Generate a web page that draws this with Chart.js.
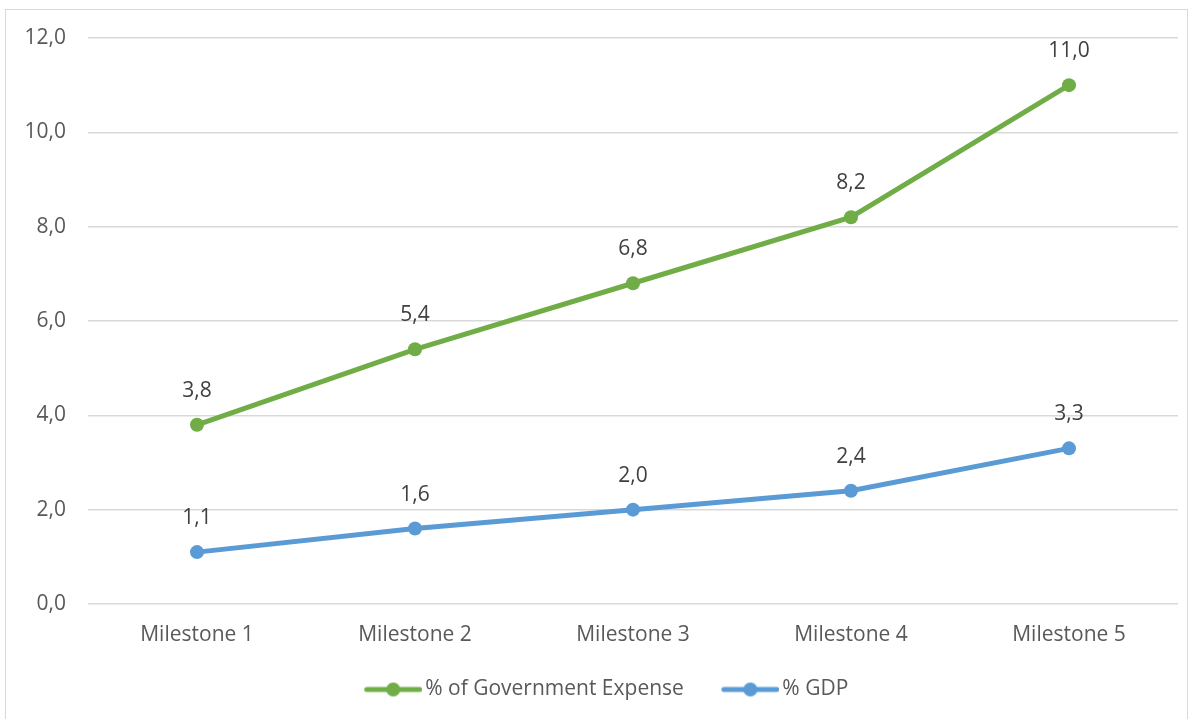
<!DOCTYPE html>
<html>
<head>
<meta charset="utf-8">
<script src="https://cdn.jsdelivr.net/npm/chart.js@4.4.0/dist/chart.umd.min.js"></script>
<style>
html,body{margin:0;padding:0;background:#fff;}
#wrap{position:absolute;left:0;top:0;width:1193px;height:719px;}
#frame{position:absolute;left:5px;top:9px;width:1183px;height:720px;border:1px solid #d9d9d9;box-sizing:border-box;}
canvas{position:absolute;left:0;top:0;}
</style>
</head>
<body>
<div id="wrap"><div id="frame"></div><canvas id="c" width="1193" height="719"></canvas></div>
<script>
const categories = ["Milestone 1","Milestone 2","Milestone 3","Milestone 4","Milestone 5"];
const govExpense = [3.8, 5.4, 6.8, 8.2, 11.0];
const gdp = [1.1, 1.6, 2.0, 2.4, 3.3];
const seriesNames = ["% of Government Expense", "% GDP"];
const GREEN = "#70ad47", BLUE = "#5b9bd5";
const FONT = "'Open Sans', 'Liberation Sans', sans-serif";
const FS = 21;

function legendIcon(color){
  const cv = document.createElement('canvas');
  cv.width = 90; cv.height = 16;
  const g = cv.getContext('2d');
  g.strokeStyle = color; g.lineWidth = 5; g.lineCap = 'round';
  g.beginPath(); g.moveTo(34.5,8); g.lineTo(87.5,8); g.stroke();
  g.fillStyle = color; g.beginPath(); g.arc(61,8,7,0,Math.PI*2); g.fill();
  return cv;
}

const fmt = v => v.toFixed(1).replace('.', ',');

const dataLabels = {
  id: 'dataLabels',
  afterDatasetsDraw(chart){
    const ctx = chart.ctx;
    ctx.save();
    ctx.font = FS + "px " + FONT;
    ctx.fillStyle = "#404040";
    ctx.textAlign = 'center';
    ctx.textBaseline = 'middle';
    chart.data.datasets.forEach((ds, i) => {
      chart.getDatasetMeta(i).data.forEach((pt, j) => {
        ctx.fillText(fmt(ds.data[j]), pt.x, pt.y - 34);
      });
    });
    ctx.restore();
  }
};

new Chart(document.getElementById('c'), {
  type: 'line',
  data: {
    labels: categories,
    datasets: [
      { label: seriesNames[0], data: govExpense, borderColor: GREEN, backgroundColor: GREEN,
        borderWidth: 5, pointRadius: 7, pointHoverRadius: 7, pointBackgroundColor: GREEN,
        pointBorderWidth: 0, tension: 0, pointStyle: 'circle', legendIcon: legendIcon(GREEN) },
      { label: seriesNames[1], data: gdp, borderColor: BLUE, backgroundColor: BLUE,
        borderWidth: 5, pointRadius: 7, pointHoverRadius: 7, pointBackgroundColor: BLUE,
        pointBorderWidth: 0, tension: 0, pointStyle: 'circle', legendIcon: legendIcon(BLUE) }
    ]
  },
  options: {
    responsive: false,
    animation: false,
    devicePixelRatio: 1,
    layout: { padding: { left: 10, right: 15, top: 38, bottom: 9 } },
    scales: {
      x: {
        offset: true,
        grid: { display: false, drawTicks: false },
        border: { display: false },
        ticks: { color: "#595959", font: { size: FS, family: FONT }, padding: 18, maxRotation: 0 },
        afterFit(s){ s.height = 62; }
      },
      y: {
        min: 0, max: 12,
        ticks: { stepSize: 2, color: "#595959", font: { size: FS, family: FONT }, padding: 22,
          callback: v => fmt(v) },
        grid: { color: "#d9d9d9", lineWidth: 1.5, drawTicks: false },
        border: { display: false },
        afterFit(s){ s.width = 78; }
      }
    },
    plugins: {
      legend: {
        position: 'bottom',
        labels: {
          usePointStyle: true,
          pointStyleWidth: 75,
          color: "#595959",
          font: { size: FS, family: FONT },
          padding: 13,
          generateLabels(chart){
            return chart.data.datasets.map((ds, i) => ({
              text: ds.label, pointStyle: ds.legendIcon, datasetIndex: i,
              fillStyle: ds.borderColor, strokeStyle: ds.borderColor, lineWidth: 0, hidden: false,
              fontColor: "#595959"
            }));
          }
        }
      },
      tooltip: { enabled: false }
    }
  },
  plugins: [dataLabels]
});
</script>
</body>
</html>
